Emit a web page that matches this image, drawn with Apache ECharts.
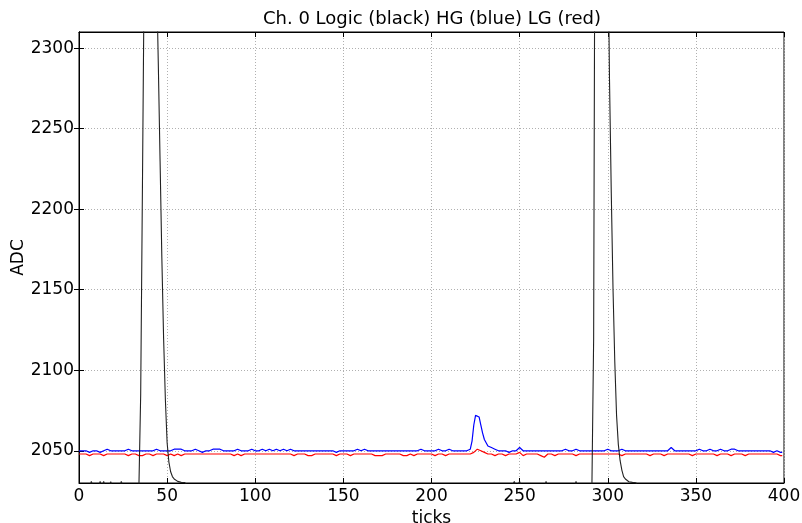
<!DOCTYPE html>
<html>
<head>
<meta charset="utf-8">
<script src="https://cdn.jsdelivr.net/npm/echarts@6/dist/echarts.min.js"></script>
<style>html,body{margin:0;padding:0;background:#fff}#c{width:802px;height:523px}</style>
</head>
<body>
<div id="c"></div>
<script>
const titleText = 'Ch. 0 Logic (black) HG (blue) LG (red)';
const xTicks = [0, 50, 100, 150, 200, 250, 300, 350, 400];
const yTicks = [2050, 2100, 2150, 2200, 2250, 2300];

// HG (blue), one value per tick 0..399
const hg = [
2050,2050,2050,2050,2050,2050,2049,2049,2050,2049,2050,2050,2049,2050,2050,2050,2051,2051,2050,2050,
2050,2050,2050,2050,2050,2050,2050,2050,2051,2051,2050,2050,2050,2050,2050,2050,2050,2050,2050,2050,
2050,2050,2050,2051,2051,2050,2050,2050,2050,2050,2050,2050,2050,2050,2051,2050,2051,2050,2051,2051,
2050,2051,2050,2050,2050,2050,2051,2051,2050,2050,2049,2050,2050,2050,2050,2051,2051,2052,2051,2052,
2051,2051,2050,2050,2050,2050,2050,2050,2050,2050,2051,2050,2050,2050,2050,2050,2050,2050,2051,2051,
2050,2050,2050,2050,2051,2050,2050,2050,2051,2050,2050,2050,2051,2050,2050,2050,2051,2050,2050,2050,
2051,2050,2050,2050,2050,2050,2050,2050,2050,2050,2050,2050,2050,2050,2050,2050,2050,2050,2050,2050,
2050,2051,2050,2050,2050,2050,2049,2049,2050,2050,2050,2050,2050,2051,2050,2051,2050,2050,2051,2050,
2050,2050,2051,2050,2050,2050,2050,2050,2050,2051,2050,2050,2050,2051,2050,2050,2050,2051,2050,2050,
2050,2051,2050,2050,2050,2050,2050,2050,2050,2050,2050,2050,2050,2050,2051,2051,2050,2050,2050,2050,
2050,2050,2050,2050,2051,2050,2050,2050,2050,2050,2051,2050,2050,2050,2050,2051,2050,2050,2050,2050,
2050,2050,2051,2056,2066,2072,2073,2071,2066,2061,2057,2055,2053,2052,2052,2051,2051,2050,2050,2050,
2050,2049,2050,2050,2049,2050,2050,2050,2050,2051,2052,2051,2050,2050,2050,2050,2050,2049,2050,2050,
2050,2050,2050,2049,2050,2050,2050,2050,2050,2050,2050,2050,2050,2050,2050,2051,2051,2051,2050,2050,
2050,2050,2051,2050,2050,2050,2050,2050,2050,2050,2050,2050,2050,2050,2050,2050,2050,2051,2050,2050,
2051,2051,2050,2050,2050,2050,2050,2050,2051,2050,2050,2050,2050,2050,2050,2050,2050,2050,2050,2050,
2050,2050,2050,2050,2050,2050,2050,2050,2050,2050,2050,2050,2050,2050,2050,2051,2052,2051,2050,2050,
2050,2050,2050,2050,2050,2049,2050,2050,2050,2050,2050,2050,2051,2050,2050,2051,2050,2050,2051,2050,
2050,2051,2050,2050,2051,2050,2050,2050,2050,2050,2051,2051,2051,2050,2050,2051,2050,2050,2050,2050,
2050,2050,2050,2050,2050,2050,2050,2050,2050,2050,2050,2049,2050,2049,2049,2049,2050,2049,2049,2049
];

// LG (red), one value per tick 0..399
const lg = [
2048,2048,2048,2048,2048,2047,2047,2048,2048,2047,2048,2048,2048,2047,2047,2048,2048,2047,2048,2048,
2048,2048,2048,2047,2048,2048,2048,2047,2047,2047,2048,2048,2048,2047,2047,2047,2047,2048,2048,2048,
2048,2048,2047,2047,2048,2048,2048,2047,2048,2048,2047,2047,2048,2048,2047,2048,2048,2047,2047,2048,
2048,2048,2048,2048,2048,2048,2048,2048,2048,2048,2048,2048,2048,2048,2048,2048,2048,2048,2048,2048,
2048,2048,2048,2048,2048,2048,2048,2047,2047,2047,2048,2048,2047,2048,2048,2048,2048,2048,2048,2048,
2048,2048,2048,2048,2048,2048,2048,2048,2048,2048,2048,2047,2048,2048,2048,2048,2048,2048,2048,2048,
2048,2048,2047,2047,2048,2047,2048,2048,2048,2047,2047,2048,2047,2048,2048,2048,2048,2048,2048,2048,
2048,2048,2048,2048,2048,2047,2047,2047,2048,2048,2048,2048,2048,2048,2047,2048,2048,2048,2048,2048,
2048,2048,2048,2048,2048,2048,2048,2047,2047,2048,2047,2048,2047,2048,2048,2048,2048,2048,2048,2048,
2048,2047,2048,2047,2047,2048,2047,2048,2048,2048,2047,2047,2048,2048,2048,2048,2048,2048,2048,2048,
2048,2048,2047,2048,2048,2048,2048,2048,2047,2047,2048,2048,2048,2048,2048,2048,2048,2048,2048,2048,
2048,2048,2048,2048,2049,2050,2051,2050,2050,2049,2049,2048,2048,2047,2048,2047,2047,2048,2048,2047,
2048,2048,2047,2048,2048,2047,2048,2048,2048,2048,2049,2048,2047,2047,2048,2048,2048,2048,2048,2048,
2048,2048,2047,2046,2046,2047,2048,2048,2048,2047,2047,2048,2048,2048,2048,2048,2048,2048,2048,2048,
2048,2048,2047,2047,2048,2047,2048,2048,2048,2048,2048,2048,2048,2048,2048,2048,2048,2048,2048,2048,
2048,2048,2048,2048,2048,2048,2048,2048,2047,2048,2048,2048,2048,2048,2048,2048,2048,2048,2048,2048,
2048,2048,2048,2047,2047,2047,2048,2048,2048,2048,2048,2048,2047,2047,2048,2048,2048,2048,2048,2048,
2048,2048,2048,2048,2048,2048,2048,2048,2047,2047,2048,2048,2048,2048,2048,2048,2048,2048,2048,2048,
2048,2048,2047,2047,2048,2048,2048,2048,2048,2048,2047,2047,2048,2048,2048,2048,2048,2048,2047,2047,
2048,2048,2048,2048,2048,2048,2048,2048,2048,2048,2048,2048,2048,2048,2048,2048,2048,2048,2047,2047
];

// Logic (black): sampled ticks and values
const logicX = [0,6,7,8,11,12,13,14,15,17,18,19,23,24,25,34,35,36,37,38,39,43,44,45,46,47,48,49,50,51,52,53,54,55,56,57,58,59,60,61,62,
  245,247,248,249,250,251,264,265,266,281,282,283,291,292,293,294,299,300,301,302,303,304,305,306,307,308,309,310,311,312,313,314,315,316,317,399];
const logicY = [2027,2027,2031,2027,2027,2031,2027,2031,2027,2027,2030.8,2027,2027,2031,2027,2028,2085,2215,2350,2700,3000,3000,2345,2290,2230,2170,2120,2082,2055,2043,2037,2034,2032.5,2031.5,2031,2030.6,2030.4,2030.3,2030.3,2030.2,2028,
  2027,2031,2027,2027,2031,2027,2027,2031,2027,2027,2031,2027,2027,2120,2500,3000,3000,2380,2280,2210,2150,2105,2072,2054,2044,2038,2034,2032.5,2031.5,2030.8,2030.5,2030.4,2030.3,2030.2,2028,2027];

const font = 'DejaVu Sans';
const chart = echarts.init(document.getElementById('c'), null, {renderer: 'canvas'});
const gridLine = {show: true, lineStyle: {color: '#b0b0b0', type: [1, 2], width: 1}};
const tickStyle = {show: true, inside: true, length: 5, lineStyle: {color: '#000', width: 1}};
const plain = v => String(v);
chart.setOption({
  animation: false,
  backgroundColor: '#fff',
  title: {
    text: titleText, left: 432, top: 10, padding: 0, textAlign: 'center',
    textStyle: {fontFamily: font, fontSize: 18, fontWeight: 'normal', color: '#000'}
  },
  grid: {left: 79, right: 18, top: 32, bottom: 40, containLabel: false, outerBoundsMode: 'none',
    show: true, borderColor: '#000', borderWidth: 1},
  xAxis: [
    {type: 'value', min: 0, max: 400, interval: 50, position: 'bottom',
     name: 'ticks', nameLocation: 'middle', nameGap: 20,
     nameTextStyle: {fontFamily: font, fontSize: 17, color: '#000'},
     axisLine: {show: true, lineStyle: {color: '#000'}}, axisTick: tickStyle,
     axisLabel: {fontFamily: font, fontSize: 17, color: '#000', margin: 5, formatter: plain,
       customValues: xTicks},
     splitLine: gridLine},
    {type: 'value', min: 0, max: 400, interval: 50, position: 'top',
     axisLine: {show: true, lineStyle: {color: '#000'}}, axisTick: tickStyle,
     axisLabel: {show: false}, splitLine: {show: false}}
  ],
  yAxis: [
    {type: 'value', min: 2030, max: 2310, position: 'left',
     name: 'ADC', nameLocation: 'middle', nameGap: 52, nameRotate: 90, nameMoveOverlap: false,
     nameTextStyle: {fontFamily: font, fontSize: 17, color: '#000'},
     axisLine: {show: true, lineStyle: {color: '#000'}},
     axisTick: Object.assign({customValues: yTicks}, tickStyle),
     axisLabel: {fontFamily: font, fontSize: 17, color: '#000', margin: 5, formatter: plain, customValues: yTicks},
     splitLine: gridLine},
    {type: 'value', min: 2030, max: 2310, position: 'right',
     axisLine: {show: true, lineStyle: {color: '#000'}},
     axisTick: Object.assign({customValues: yTicks}, tickStyle),
     axisLabel: {show: false, customValues: yTicks}, splitLine: {show: false}}
  ],
  series: [
    {type: 'line', name: 'HG', showSymbol: false, symbol: 'none', clip: true,
     lineStyle: {color: '#0000ff', width: 1.2}, data: hg.map((v, i) => [i, v])},
    {type: 'line', name: 'LG', showSymbol: false, symbol: 'none', clip: true,
     lineStyle: {color: '#ff0000', width: 1.2}, data: lg.map((v, i) => [i, v])},
    {type: 'line', name: 'Logic', showSymbol: false, symbol: 'none', clip: true,
     lineStyle: {color: '#222', width: 1.1}, data: logicX.map((x, i) => [x, logicY[i]])}
  ]
});
</script>
</body>
</html>
